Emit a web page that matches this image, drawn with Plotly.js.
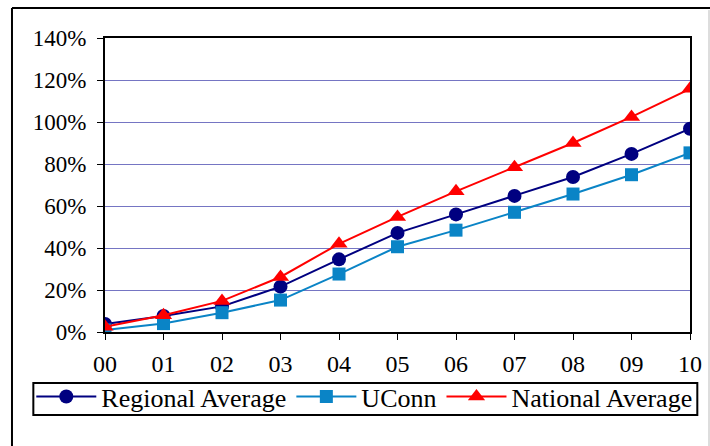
<!DOCTYPE html>
<html>
<head>
<meta charset="utf-8">
<script src="https://cdn.plot.ly/plotly-3.0.1.min.js"></script>
<style>
  html, body { margin: 0; padding: 0; background: #fff; }
  #chart { width: 710px; height: 446px; }
</style>
</head>
<body>
<div id="chart"></div>
<script>
var years = ["00", "01", "02", "03", "04", "05", "06", "07", "08", "09", "10"];
var regionalAverage = [3.8, 7.6, 12.2, 21.6, 34.6, 47.2, 56.0, 64.8, 73.8, 84.8, 96.8];
var uconn = [1.0, 4.0, 9.2, 15.2, 27.6, 40.6, 48.5, 57.0, 65.7, 74.9, 85.3];
var nationalAverage = [2.5, 8.0, 14.8, 26.2, 42.0, 54.8, 67.0, 78.5, 90.0, 102.4, 115.8];
var yTickVals = [0, 20, 40, 60, 80, 100, 120, 140];
var yTickText = ["0%", "20%", "40%", "60%", "80%", "100%", "120%", "140%"];

var xIdx = years.map(function (_, i) { return i; });
var serif = "'Liberation Serif', 'Times New Roman', serif";

var traces = [
  {
    x: xIdx, y: regionalAverage, name: "Regional Average", type: "scatter", mode: "lines+markers",
    line: { color: "#000080", width: 2 },
    marker: { symbol: "circle", size: 14, color: "#000080" }
  },
  {
    x: xIdx, y: uconn, name: "UConn", type: "scatter", mode: "lines+markers",
    line: { color: "#0A84C6", width: 2 },
    marker: { symbol: "square", size: 13, color: "#0A84C6" }
  },
  {
    x: xIdx, y: nationalAverage, name: "National Average", type: "scatter", mode: "lines+markers",
    line: { color: "#FF0000", width: 2 },
    marker: { symbol: "triangle-up", size: 15, color: "#FF0000" }
  }
];

var layout = {
  width: 710, height: 446,
  margin: { l: 105, r: 20, t: 38, b: 114, pad: 0 },
  paper_bgcolor: "#ffffff", plot_bgcolor: "#ffffff",
  showlegend: true,
  font: { family: serif, color: "#000", size: 21 },
  xaxis: {
    range: [0, 10], tickvals: xIdx, ticktext: years,
    showgrid: false, zeroline: false,
    showline: true, linecolor: "#000", linewidth: 2, mirror: true,
    ticks: "outside", ticklen: 6, tickwidth: 1, tickcolor: "#000",
    ticklabelstandoff: 3,
    tickfont: { family: serif, size: 24, color: "#000" },
    fixedrange: true
  },
  yaxis: {
    range: [0, 140], tickvals: yTickVals, ticktext: yTickText,
    showgrid: true, gridcolor: "#7575C3", gridwidth: 1, zeroline: false,
    showline: true, linecolor: "#000", linewidth: 2, mirror: true,
    ticks: "outside", ticklen: 6, tickwidth: 1, tickcolor: "#000",
    ticklabelstandoff: 6,
    tickfont: { family: serif, size: 23, color: "#000" },
    fixedrange: true
  },
  legend: {
    orientation: "h", x: -0.126, xanchor: "left", y: -0.14, yanchor: "top",
    borderwidth: 0, bgcolor: "rgba(0,0,0,0)",
    font: { family: serif, size: 26, color: "#000" },
    itemwidth: 60, tracegroupgap: 0
  },
  shapes: [
    { type: "line", xref: "paper", yref: "paper", x0: -0.159, x1: -0.159, y0: 1.102, y1: -0.45, line: { color: "#000", width: 2 } },
    { type: "line", xref: "paper", yref: "paper", x0: -0.159, x1: 1.04, y0: 1.102, y1: 1.102, line: { color: "#000", width: 2 } },
    { type: "line", xref: "paper", yref: "paper", x0: 1.0325, x1: 1.0325, y0: 1.095, y1: -0.45, line: { color: "#bbbbbb", width: 1 } },
    { type: "rect", xref: "paper", yref: "paper", x0: -0.1225, x1: 1.0125, y0: -0.1735, y1: -0.2823, line: { color: "#000", width: 2 }, fillcolor: "rgba(0,0,0,0)", layer: "above" }
  ]
};

Plotly.newPlot("chart", traces, layout, { displayModeBar: false, staticPlot: true });
</script>
</body>
</html>
